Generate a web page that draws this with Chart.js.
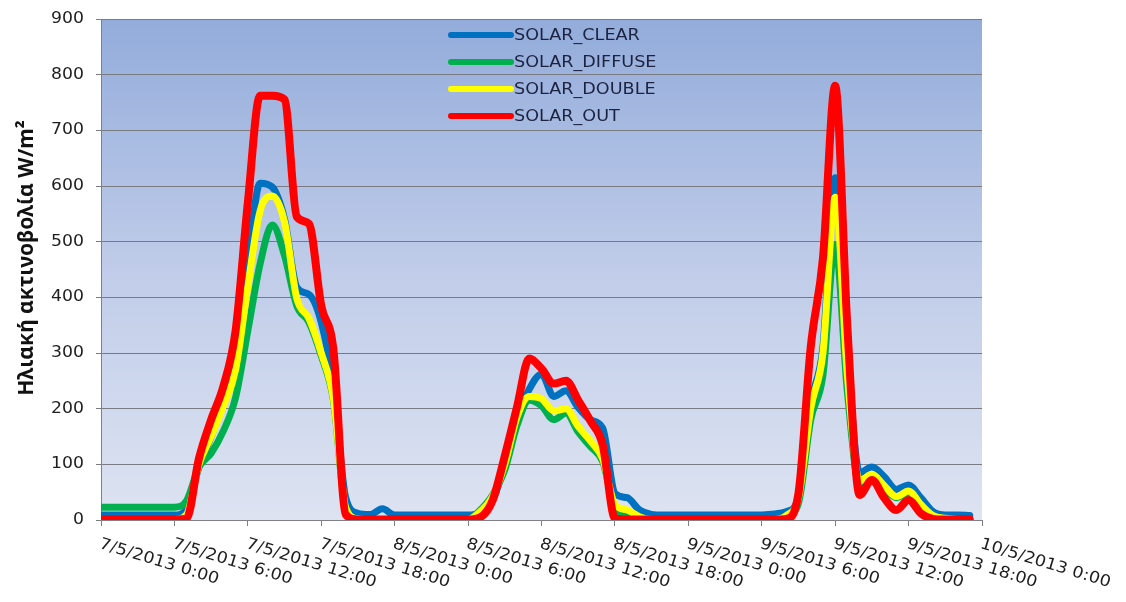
<!DOCTYPE html>
<html><head><meta charset="utf-8">
<script src="https://cdn.jsdelivr.net/npm/chart.js@4.4.0/dist/chart.umd.min.js"></script>
<style>html,body{margin:0;padding:0;background:#fff;}#wrap{width:1126px;height:602px;position:relative;}</style>
</head><body><div id="wrap"><canvas id="c" width="1126" height="602"></canvas></div>
<script>
const hours = [0,1,2,3,4,5,6,7,8,9,10,11,12,13,14,15,16,17,18,19,20,21,22,23,
  24,25,26,27,28,29,30,31,32,33,34,35,36,37,38,39,40,41,42,43,44,45,46,47,
  48,49,50,51,52,53,54,55,56,57,58,59,60,61,62,63,64,65,66,67,68,69,70,71];
const solarClear = [9,9,9,9,9,9,9,20,95,150,215,300,460,605,598,540,418,405,355,240,40,12,10,20,
  9,9,9,9,9,9,9,14,35,100,180,235,262,222,232,202,180,165,48,40,18,10,9,9,
  9,9,9,9,9,9,9,11,15,40,210,310,615,300,85,95,78,55,63,40,15,9,9,8];
const solarDiffuse = [23,23,23,23,23,23,23,35,95,120,160,220,340,460,530,475,385,355,295,215,20,2,1,1,
  1,1,1,1,1,1,1,18,45,90,170,215,205,180,192,158,132,105,22,8,3,1,1,1,
  1,1,1,1,1,1,1,1,6,30,180,260,495,230,62,75,58,40,48,25,7,2,1,1];
const solarDouble = [1,1,1,1,1,1,1,10,100,150,205,270,420,555,582,535,398,362,300,218,22,2,1,1,
  1,1,1,1,1,1,1,15,42,100,185,222,218,196,200,168,142,110,28,18,6,1,1,1,
  1,1,1,1,1,1,1,1,8,40,200,300,580,260,70,82,62,42,52,28,8,3,1,1];
const solarOut = [1,1,1,1,1,1,1,3,110,180,240,340,570,762,762,755,545,532,385,305,10,1,1,1,
  1,1,1,1,1,1,1,5,35,115,203,290,272,245,250,215,178,135,3,1,1,1,1,1,
  1,1,1,1,1,1,1,1,2,48,310,470,780,346,45,72,40,18,36,12,2,1,1,1];
const tickLabels = ['7/5/2013 0:00','7/5/2013 6:00','7/5/2013 12:00','7/5/2013 18:00',
  '8/5/2013 0:00','8/5/2013 6:00','8/5/2013 12:00','8/5/2013 18:00',
  '9/5/2013 0:00','9/5/2013 6:00','9/5/2013 12:00','9/5/2013 18:00','10/5/2013 0:00'];
const seriesNames = ['SOLAR_CLEAR','SOLAR_DIFFUSE','SOLAR_DOUBLE','SOLAR_OUT'];
const seriesColors = ['#0070C0','#00B050','#FFFF00','#FF0000'];
const yTitle = 'Ηλιακή ακτινοβολία W/m²';

const seriesData = [solarClear, solarDiffuse, solarDouble, solarOut];
const widths = [7,7,7,8];
const orders = [4,3,2,1];

const datasets = seriesData.map((arr, k) => ({
  label: seriesNames[k],
  data: arr.map((v, i) => ({x: hours[i], y: v})),
  borderColor: seriesColors[k],
  backgroundColor: seriesColors[k],
  borderWidth: widths[k],
  pointRadius: 0,
  cubicInterpolationMode: 'monotone',
  borderCapStyle: 'round',
  borderJoinStyle: 'round',
  order: orders[k],
  fill: false
}));

const decor = {
  id: 'decor',
  beforeDraw(chart) {
    const ctx = chart.ctx, a = chart.chartArea;
    ctx.save();
    ctx.fillStyle = '#ffffff';
    ctx.fillRect(0, 0, chart.width, chart.height);
    const g = ctx.createLinearGradient(0, a.top, 0, a.bottom);
    g.addColorStop(0, '#93acdb');
    g.addColorStop(0.5, '#c0cce9');
    g.addColorStop(1, '#dde3f1');
    ctx.fillStyle = g;
    ctx.fillRect(a.left, a.top, a.right - a.left, a.bottom - a.top);
    ctx.restore();
  },
  afterDraw(chart) {
    const ctx = chart.ctx, a = chart.chartArea;
    const xs = chart.scales.x, ys = chart.scales.y;
    ctx.save();
    // x tick labels
    ctx.fillStyle = '#1e1e1e';
    ctx.font = '16px "DejaVu Sans"';
    ctx.textAlign = 'left';
    ctx.textBaseline = 'top';
    tickLabels.forEach((t, i) => {
      const px = xs.getPixelForTick(i);
      ctx.save();
      ctx.translate(px + 1, a.bottom + 16);
      ctx.rotate(17 * Math.PI / 180);
      ctx.scale(1.1, 1);
      ctx.fillText(t, 0, 0);
      ctx.restore();
    });
    // y tick labels
    ctx.font = '15px "DejaVu Sans"';
    ctx.textAlign = 'right';
    ctx.textBaseline = 'middle';
    ys.ticks.forEach((tk, i) => {
      const py = ys.getPixelForTick(i);
      ctx.save();
      ctx.translate(84, py);
      ctx.scale(1.15, 1);
      ctx.fillText(String(tk.value), 0, 0);
      ctx.restore();
    });
    // y title
    ctx.save();
    ctx.translate(27, 258);
    ctx.rotate(-Math.PI / 2);
    ctx.font = 'bold 21px "Noto Sans"';
    ctx.fillStyle = '#111';
    ctx.textAlign = 'center';
    ctx.textBaseline = 'middle';
    ctx.fillText(yTitle, 0, 0);
    ctx.restore();
    // legend
    const ly = [35, 62, 89, 116];
    seriesNames.forEach((n, k) => {
      ctx.strokeStyle = seriesColors[k];
      ctx.lineWidth = 6;
      ctx.lineCap = 'round';
      ctx.beginPath();
      ctx.moveTo(451, ly[k]);
      ctx.lineTo(511, ly[k]);
      ctx.stroke();
      ctx.save();
      ctx.translate(514, ly[k] + 1);
      ctx.scale(1.1, 1);
      ctx.font = '16px "DejaVu Sans"';
      ctx.fillStyle = '#1c2340';
      ctx.textAlign = 'left';
      ctx.textBaseline = 'middle';
      ctx.fillText(n, 0, 0);
      ctx.restore();
    });
    ctx.restore();
  }
};

new Chart(document.getElementById('c'), {
  type: 'line',
  data: { datasets },
  options: {
    responsive: false,
    animation: false,
    devicePixelRatio: 1,
    layout: { padding: { top: 19, right: 144, bottom: 0, left: 0 } },
    plugins: { legend: { display: false }, tooltip: { enabled: false } },
    scales: {
      x: {
        type: 'linear', min: 0, max: 72,
        ticks: { display: false, stepSize: 6 },
        grid: { drawOnChartArea: false, drawTicks: true, tickLength: 6, color: '#7f7f85' },
        border: { display: true, color: '#7f7f85' },
        afterFit(s) { s.height = 82; }
      },
      y: {
        min: 0, max: 900,
        ticks: { display: false, stepSize: 100 },
        grid: { color: '#7a7a82', lineWidth: 1, drawTicks: true, tickLength: 5 },
        border: { display: true, color: '#7f7f85' },
        afterFit(s) { s.width = 101; }
      }
    }
  },
  plugins: [decor]
});
</script></body></html>
